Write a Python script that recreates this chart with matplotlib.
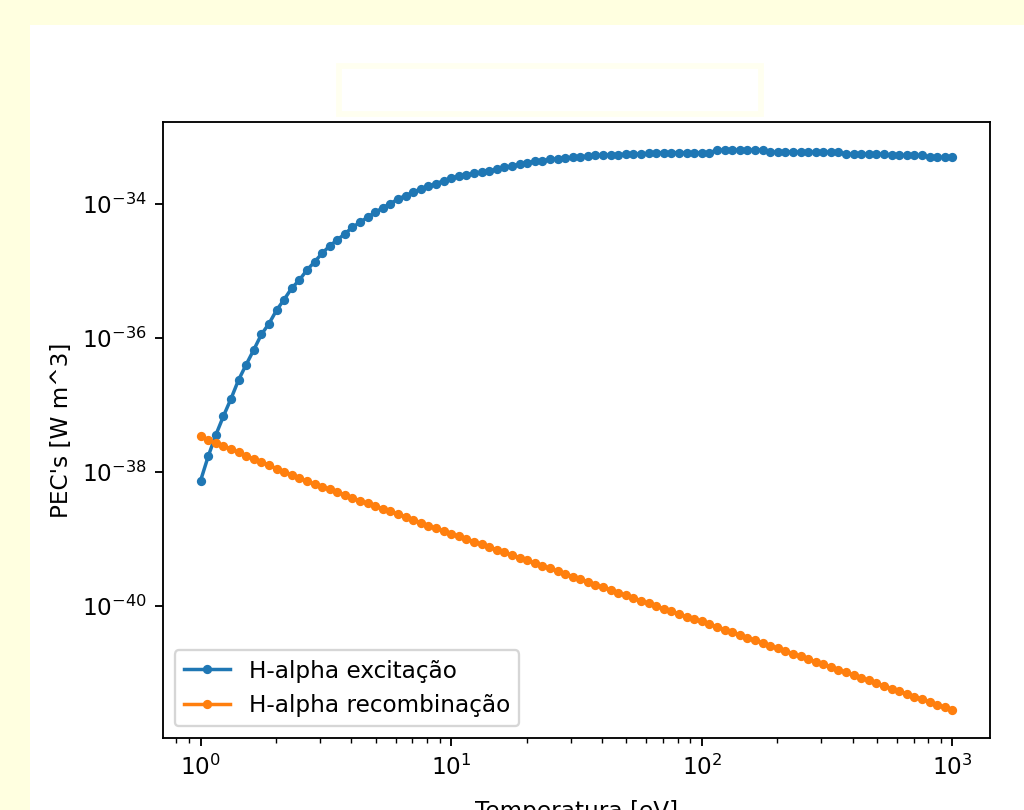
import numpy as np
import matplotlib
matplotlib.use('Agg')
import matplotlib.pyplot as plt
from matplotlib.patches import Rectangle
from matplotlib.ticker import NullLocator

# Temperature grid [eV] (100 points, 1 .. 1000 eV)
temperatura = [
    1.000, 1.072, 1.150, 1.233, 1.322, 1.417, 1.520, 1.630, 1.748, 1.874, 2.009,
    2.154, 2.310, 2.477, 2.656, 2.848, 3.054, 3.275, 3.511, 3.765, 4.037, 4.329,
    4.642, 4.977, 5.337, 5.722, 6.136, 6.579, 7.055, 7.565, 8.111, 8.697, 9.326,
    10.00, 10.72, 11.50, 12.33, 13.22, 14.17, 15.20, 16.30, 17.48, 18.74, 20.09,
    21.54, 23.10, 24.77, 26.56, 28.48, 30.54, 32.75, 35.11, 37.65, 40.37, 43.29,
    46.42, 49.77, 53.37, 57.22, 61.36, 65.79, 70.55, 75.65, 81.11, 86.97, 93.26,
    100.0, 107.2, 115.0, 123.3, 132.2, 141.7, 152.0, 163.0, 174.8, 187.4, 200.9,
    215.4, 231.0, 247.7, 265.6, 284.8, 305.4, 327.5, 351.1, 376.5, 403.7, 432.9,
    464.2, 497.7, 533.7, 572.2, 613.6, 657.9, 705.5, 756.5, 811.1, 869.7, 932.6,
    1000.0,
]

# log10 of the PEC values [W m^3]
log_pec_excitacao = [
    -38.13, -37.77, -37.45, -37.17, -36.91, -36.63, -36.40, -36.18, -35.95, -35.79,
    -35.59, -35.43, -35.26, -35.14, -34.99, -34.87, -34.74, -34.63, -34.54, -34.45,
    -34.35, -34.28, -34.20, -34.13, -34.06, -34.00, -33.93, -33.88, -33.83, -33.78,
    -33.74, -33.70, -33.66, -33.62, -33.59, -33.57, -33.55, -33.53, -33.51, -33.49,
    -33.46, -33.44, -33.41, -33.39, -33.37, -33.36, -33.34, -33.33, -33.32, -33.31,
    -33.30, -33.29, -33.28, -33.28, -33.27, -33.27, -33.26, -33.26, -33.26, -33.25,
    -33.24, -33.24, -33.24, -33.24, -33.24, -33.24, -33.24, -33.24, -33.20, -33.20,
    -33.20, -33.20, -33.20, -33.20, -33.20, -33.23, -33.23, -33.23, -33.23, -33.23,
    -33.23, -33.23, -33.23, -33.23, -33.23, -33.26, -33.26, -33.26, -33.26, -33.26,
    -33.26, -33.28, -33.28, -33.28, -33.28, -33.28, -33.31, -33.31, -33.31, -33.31,
]

log_pec_recombinacao = [
    -37.47, -37.52, -37.57, -37.61, -37.66, -37.71, -37.76, -37.81, -37.85, -37.90,
    -37.95, -38.00, -38.04, -38.09, -38.14, -38.18, -38.22, -38.26, -38.30, -38.34,
    -38.39, -38.43, -38.47, -38.51, -38.55, -38.59, -38.63, -38.67, -38.71, -38.76,
    -38.80, -38.84, -38.88, -38.92, -38.96, -39.00, -39.04, -39.08, -39.12, -39.16,
    -39.20, -39.24, -39.28, -39.32, -39.36, -39.40, -39.44, -39.48, -39.52, -39.56,
    -39.60, -39.64, -39.68, -39.72, -39.76, -39.80, -39.84, -39.88, -39.92, -39.96,
    -40.00, -40.04, -40.08, -40.12, -40.16, -40.20, -40.23, -40.27, -40.31, -40.35,
    -40.39, -40.43, -40.47, -40.51, -40.55, -40.59, -40.63, -40.67, -40.71, -40.75,
    -40.79, -40.83, -40.87, -40.91, -40.95, -40.99, -41.03, -41.07, -41.11, -41.15,
    -41.19, -41.23, -41.27, -41.31, -41.35, -41.39, -41.43, -41.47, -41.51, -41.55,
]

labels = ['H-alpha excitação', 'H-alpha recombinação']
yticks = [1e-40, 1e-38, 1e-36, 1e-34]

W, H = 1024, 810
DPI = 1024 / 6.144
fig = plt.figure(figsize=(W / DPI, H / DPI), dpi=DPI, facecolor='#ffffe0')

# white page area where the figure sits (page is cropped by the screenshot)
fig.patches.append(Rectangle((30 / W, 0), 1 - 30 / W, 1 - 25 / H, transform=fig.transFigure,
                             facecolor='white', edgecolor='none', zorder=-10))
# empty title box
fig.patches.append(Rectangle((339 / W, 1 - 114 / H), 422 / W, 48 / H, transform=fig.transFigure,
                             facecolor='white', edgecolor='#fffff0', lw=2.5, zorder=-5))

ax = fig.add_axes([163 / W, 1 - 738 / H, 827 / W, 616 / H])
ax.set_zorder(5)
T = np.array(temperatura)
ax.loglog(T, 10.0 ** np.array(log_pec_excitacao), '.-', label=labels[0])
ax.loglog(T, 10.0 ** np.array(log_pec_recombinacao), '.-', label=labels[1])
ax.set_yticks(yticks)
ax.yaxis.set_minor_locator(NullLocator())
ax.set_xlabel('Temperatura [eV]', labelpad=9)
ax.set_ylabel("PEC's [W m^3]")
ax.legend(loc='lower left')

fig.savefig('out.png', dpi=DPI, facecolor=fig.get_facecolor())
